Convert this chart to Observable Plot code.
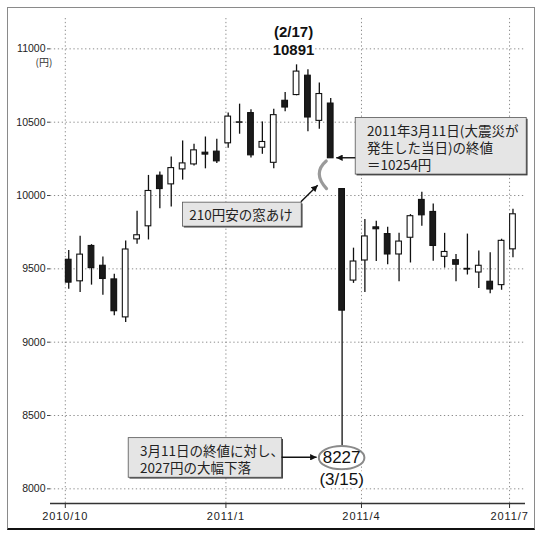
<!DOCTYPE html>
<html><head><meta charset="utf-8">
<script src="https://cdn.jsdelivr.net/npm/d3@7"></script>
<script src="https://cdn.jsdelivr.net/npm/@observablehq/plot@0.6"></script>
<style>
html,body{margin:0;padding:0;background:#fff;}
#wrap{position:relative;width:540px;height:539px;overflow:hidden;}
#frame{position:absolute;left:7px;top:7px;width:526px;height:520px;border:1px solid #8a8a8a;border-bottom:2px solid #111;}
#chart{position:absolute;left:0;top:0;}
</style></head><body>
<div id="wrap"><div id="frame"></div><div id="chart"></div></div>
<script>
// Weekly candles, week ending 2010/10/1 ... 2011/7/1 (Nikkei 225, yen)
const opens  = [9562,9415,9656,9521,9428,9169,9701,9790,10135,10076,10178,10212,10292,10299,10356,10496,10562,10326,10223,10646,10685,10817,10509,10627,10044,9420,9557,9783,9737,9598,9712,9970,9888,9582,9559,9500,9475,9412,9389,9633];
const highs  = [9625,9722,9665,9581,9463,9690,9892,10137,10160,10262,10372,10349,10399,10384,10562,10623,10584,10502,10589,10703,10891,10858,10767,10662,10044,9641,9836,9824,9784,9742,9870,10023,9942,9742,9598,9737,9621,9610,9702,9907];
const lows   = [9361,9338,9389,9320,9181,9135,9667,9697,9910,9921,10105,10201,10182,10219,10322,10418,10256,10281,10182,10571,10680,10434,10452,10254,8227,9401,9338,9550,9528,9412,9540,9791,9552,9505,9412,9458,9366,9331,9354,9575];
const closes = [9406,9597,9505,9431,9211,9632,9729,10031,10044,10187,10219,10308,10279,10233,10538,10499,10274,10365,10548,10600,10845,10532,10692,10254,9215,9550,9721,9770,9598,9686,9859,9865,9656,9615,9528,9495,9521,9359,9691,9872];

const yTicks = [8000, 8500, 9000, 9500, 10000, 10500, 11000];
const yUnit = "(円)";
const xTickLabels = ["2010/10", "2011/1", "2011/4", "2011/7"];
const xTickPos = [-0.3, 13.8, 25.7, 38.7];   // in week-index units

const peakDate = "(2/17)";
const crashDate = "(3/15)";
const mar11Close = 10254;
const noteMar11 = ["2011年3月11日(大震災が", "発生した当日)の終値", "＝10254円"];
const noteGap = "210円安の窓あけ";
const noteDrop = ["3月11日の終値に対し、", "2027円の大幅下落"];

const candles = opens.map((o, i) => ({i, open: o, high: highs[i], low: lows[i], close: closes[i]}));
const peakIdx = d3.maxIndex(highs);
const crashIdx = d3.minIndex(lows);
const marIdx = closes.indexOf(mar11Close);

const grid = {stroke: "#8c8c8c", strokeDasharray: "1.3,2.6", strokeWidth: 1};
const chart = Plot.plot({
  width: 540, height: 539,
  marginLeft: 50, marginRight: 15, marginTop: 18, marginBottom: 36,
  style: {background: "transparent", fontFamily: "'Liberation Sans', Arial, sans-serif", color: "#222"},
  x: {type: "linear", domain: [-1.6, 40.1], axis: null, label: null},
  y: {domain: [7900, 11207], axis: null, label: null},
  marks: [
    Plot.ruleY(yTicks, grid),
    Plot.ruleX(xTickPos, grid),
    Plot.ruleY([7900], {stroke: "#333", strokeWidth: 1.3}),
    Plot.axisX(xTickPos, {tickFormat: d => xTickLabels[xTickPos.indexOf(d)], tickSize: 5, tickPadding: 4, fontSize: 11, stroke: "#333", label: null}),
    Plot.axisY(yTicks, {tickSize: 3, tickPadding: 2, fontSize: 10.5, stroke: "#444", tickFormat: d => String(d), label: null}),
    Plot.text([yUnit], {frameAnchor: "left", y: 11000, dx: -15, dy: 13.5, fontSize: 10, fontFamily: "'Noto Sans CJK JP', sans-serif", fill: "#333"}),
    Plot.ruleX(candles, {x: "i", y1: "low", y2: "high", stroke: "#111", strokeWidth: 1.3}),
    Plot.rect(candles, {x1: d => d.i - 0.25, x2: d => d.i + 0.25, y1: "open", y2: "close",
      fill: d => d.close >= d.open ? "#fff" : "#1a1a1a", stroke: "#111", strokeWidth: 1.1}),
    Plot.text([peakIdx], {x: d => d, y: d => highs[d], text: d => String(highs[d]), dx: -3, dy: -14.5,
      fontSize: 15, fontWeight: "bold", fill: "#111", stroke: "#fff", strokeWidth: 6}),
    Plot.text([peakIdx], {x: d => d, y: d => highs[d], text: () => peakDate, dx: -3, dy: -32.5,
      fontSize: 15, fontWeight: "bold", fill: "#111", stroke: "#fff", strokeWidth: 6})
  ]
});
document.getElementById("chart").appendChild(chart);

const svg = d3.select(chart);
svg.selectAll('g[aria-label="x-axis tick label"] text').attr("letter-spacing", "0.9");
const X = v => chart.scale("x").apply(v);
const Y = v => chart.scale("y").apply(v);
const jp = "'Noto Sans CJK JP', sans-serif";

const defs = svg.append("defs");
defs.append("marker").attr("id", "ah").attr("viewBox", "0 0 10 10")
  .attr("refX", 10).attr("refY", 5).attr("markerWidth", 8).attr("markerHeight", 6.5)
  .attr("markerUnits", "userSpaceOnUse").attr("orient", "auto")
  .append("path").attr("d", "M0,0L10,5L0,10z").attr("fill", "#111");

const g = svg.append("g").attr("text-anchor", "start");
function box(x, y, w, h) {
  g.append("rect").attr("x", x + 1.3).attr("y", y + 1.3).attr("width", w).attr("height", h).attr("fill", "#333");
  g.append("rect").attr("x", x).attr("y", y).attr("width", w).attr("height", h)
    .attr("fill", "#e5e5e5").attr("stroke", "#555").attr("stroke-width", 0.8);
}
function lines(arr, x, y0, lh, size) {
  arr.forEach((s, k) => g.append("text").attr("x", x).attr("y", y0 + k * lh)
    .attr("text-anchor", "start")
    .attr("dominant-baseline", "central").attr("font-family", jp).attr("font-size", size)
    .attr("fill", "#222").text(s));
}
function arrow(x1, y1, x2, y2) {
  g.append("line").attr("x1", x1).attr("y1", y1).attr("x2", x2).attr("y2", y2)
    .attr("stroke", "#111").attr("stroke-width", 1.4).attr("marker-end", "url(#ah)");
}

// Note 1: Mar 11 close
const ax = X(marIdx), ay = Y(mar11Close);
box(ax + 25, ay - 40.3, 171, 56.6);
lines(noteMar11, ax + 36.7, ay - 28, 17.2, 13.5);
arrow(ax + 25, ay, ax + 6, ay);

// Note 2: gap bracket
const y1 = Y(mar11Close), y2 = Y(opens[marIdx + 1]);
const bx = ax - 8, by = (y1 + y2) / 2;
g.append("path").attr("d", `M${bx + 4},${y1 + 3.3} Q${bx - 10},${by} ${bx + 4.3},${y2}`)
  .attr("fill", "none").attr("stroke", "#9a9a9a").attr("stroke-width", 3.2).attr("stroke-linecap", "round");
box(bx - 139.7, by + 29, 118.7, 24);
lines([noteGap], bx - 133, by + 41, 17, 13.5);
arrow(bx - 21.3, by + 28.6, bx - 4.5, by + 12);

// Note 3: crash low
const cx = X(crashIdx), cy = Y(lows[crashIdx]);
g.append("ellipse").attr("cx", cx).attr("cy", cy + 2.6).attr("rx", 22.8).attr("ry", 11.7)
  .attr("fill", "#fff").attr("stroke", "#8a8a8a").attr("stroke-width", 2);
g.append("text").attr("x", cx).attr("y", cy + 2.6).attr("text-anchor", "middle").attr("dominant-baseline", "central")
  .attr("font-size", 17).attr("fill", "#111").text(String(lows[crashIdx]));
g.append("text").attr("x", cx).attr("y", cy + 24).attr("text-anchor", "middle").attr("dominant-baseline", "central")
  .attr("font-size", 17).attr("fill", "#111").attr("stroke", "#fff").attr("stroke-width", 5)
  .attr("paint-order", "stroke").text(crashDate);
box(cx - 213.4, cy - 17.4, 153.4, 39.6);
lines(noteDrop, cx - 201.7, cy - 5.1, 16.7, 13.5);
arrow(cx - 60, cy + 2.2, cx - 25, cy + 2.2);
</script>
</body></html>
